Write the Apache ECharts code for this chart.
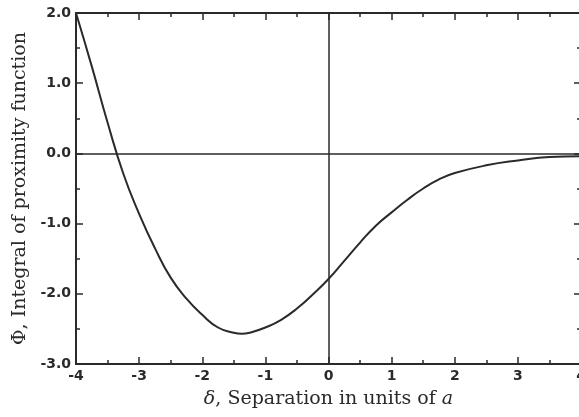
<!DOCTYPE html>
<html>
<head>
<meta charset="utf-8">
<script src="https://cdn.jsdelivr.net/npm/echarts@6/dist/echarts.min.js"></script>
<style>
  html, body { margin: 0; padding: 0; background: #ffffff; }
  #chart { width: 579px; height: 417px; }
</style>
</head>
<body>
<div id="chart"></div>
<script>
// Separation delta (units of a) and the integral of the proximity function Phi
const separation = [-4, -3.75, -3.5, -3.25, -3, -2.75, -2.5, -2.25, -2, -1.75, -1.5, -1.375, -1.25,
  -1, -0.75, -0.5, -0.25, 0, 0.25, 0.5, 0.75, 1, 1.25, 1.5, 1.75, 2, 2.5, 3, 3.5, 4];
const phi = [2.0, 1.24, 0.44, -0.29, -0.86, -1.35, -1.77, -2.07, -2.30, -2.48, -2.555, -2.57, -2.555,
  -2.48, -2.37, -2.21, -2.01, -1.79, -1.53, -1.27, -1.03, -0.84, -0.66, -0.50, -0.37, -0.28,
  -0.17, -0.10, -0.05, -0.04];

const xTicks = { min: -4, max: 4, step: 1 };
const yTicks = { min: -3, max: 2, step: 1 };

const ink = '#2a2a2a';
const tickFont = { color: ink, fontFamily: 'DejaVu Sans', fontWeight: 'bold', fontSize: 14 };
const serif = 'DejaVu Serif';

const points = separation.map((x, i) => [x, phi[i]]);

function frameAxis(extra) {
  return Object.assign({
    type: 'value',
    axisLine: { show: true, onZero: false, lineStyle: { color: ink, width: 2 } },
    axisTick: { show: true, inside: true, length: 7, lineStyle: { color: ink, width: 1.5 } },
    minorTick: { show: true, splitNumber: 2, length: 4, lineStyle: { color: ink, width: 1.5 } },
    splitLine: { show: false },
    minorSplitLine: { show: false }
  }, extra);
}

const chart = echarts.init(document.getElementById('chart'), null, { renderer: 'canvas' });
chart.setOption({
  animation: false,
  backgroundColor: '#ffffff',
  grid: { left: 76, top: 13, width: 505, height: 351, containLabel: false, outerBoundsMode: 'none' },
  xAxis: [
    frameAxis({
      position: 'bottom',
      min: xTicks.min, max: xTicks.max, interval: xTicks.step,
      axisLabel: Object.assign({ margin: 5, formatter: v => String(v) }, tickFont),
      name: '{i|δ}, Separation in units of {i|a}',
      nameLocation: 'middle',
      nameGap: 26,
      nameTextStyle: {
        color: ink, fontFamily: serif, fontSize: 19,
        rich: { i: { fontFamily: serif, fontStyle: 'italic', fontSize: 19, color: ink } }
      }
    }),
    frameAxis({
      position: 'top',
      min: xTicks.min, max: xTicks.max, interval: xTicks.step,
      axisLabel: { show: false }
    })
  ],
  yAxis: [
    frameAxis({
      position: 'left',
      min: yTicks.min, max: yTicks.max, interval: yTicks.step,
      axisLabel: Object.assign({ margin: 5, formatter: v => v.toFixed(1) }, tickFont),
      name: 'Φ, Integral of proximity function',
      nameLocation: 'middle',
      nameGap: 43,
      nameTextStyle: { color: ink, fontFamily: serif, fontSize: 19 }
    }),
    frameAxis({
      position: 'right',
      min: yTicks.min, max: yTicks.max, interval: yTicks.step,
      axisLabel: { show: false }
    })
  ],
  series: [{
    type: 'line',
    data: points,
    smooth: 0.5,
    showSymbol: false,
    lineStyle: { color: ink, width: 2 },
    markLine: {
      silent: true,
      symbol: 'none',
      label: { show: false },
      lineStyle: { color: ink, width: 1.5, type: 'solid' },
      data: [{ xAxis: 0 }, { yAxis: 0 }]
    }
  }]
});
</script>
</body>
</html>
